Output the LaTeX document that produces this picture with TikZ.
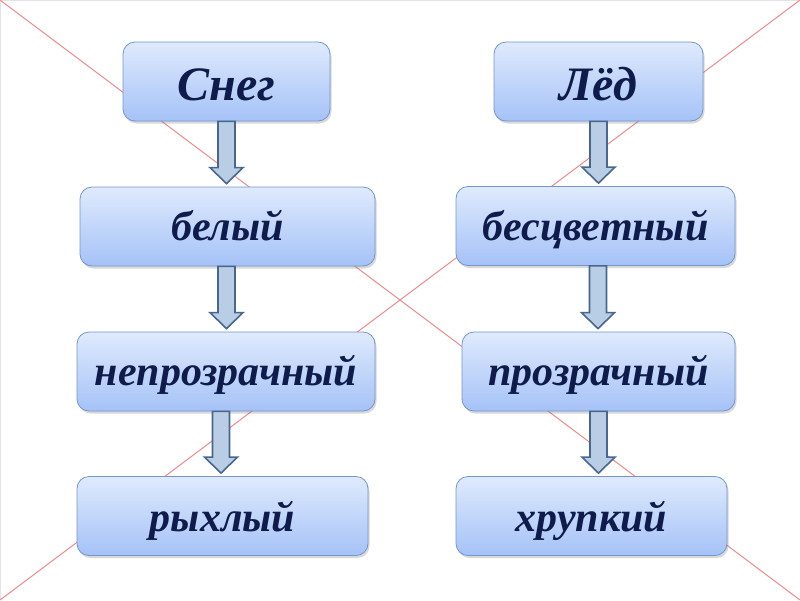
\documentclass[tikz,border=0pt]{standalone}
\usepackage{fontspec}
\setmainfont{Liberation Serif}
\usetikzlibrary{shadows,calc}
\definecolor{boxtop}{HTML}{DFEAFD}
\definecolor{boxbot}{HTML}{A5C2F7}
\definecolor{boxline}{HTML}{7396CC}
\definecolor{txt}{HTML}{0E1B4B}
\definecolor{arrfill}{HTML}{B9CDE5}
\definecolor{arrline}{HTML}{47678F}
\definecolor{xline}{HTML}{F08C8C}
\definecolor{frame}{HTML}{E4E4E4}
\tikzset{
 card/.style={draw=boxline, line width=0.8pt, rounded corners=12pt,
   top color=boxtop, bottom color=boxbot, minimum height=79pt, inner sep=0pt,
   text=txt, font=\fontsize{42}{48}\selectfont\bfseries\itshape,
   text height=40pt, text depth=12pt,
   drop shadow={shadow xshift=1.5pt, shadow yshift=-2.5pt, opacity=0.25, fill=black!60}},
 lowcard/.style={card, text height=43pt},
 bigcard/.style={card, font=\fontsize{48}{54}\selectfont\bfseries\itshape, text height=49pt},
 blockarr/.style={fill=arrfill, draw=arrline, line width=1.6pt, line join=miter},
 xstroke/.style={draw=xline, line width=1pt},
}
\newcommand\barrow[3][0]{%
  \path[blockarr] let \p1=(#2.south), \p2=(#3.north), \n1={\x1+(#1pt)} in
   ({\n1-8.5pt},\y1) -- ({\n1+8.5pt},\y1) -- ({\n1+8.5pt},{\y2+19pt})
   -- ({\n1+16.5pt},{\y2+19pt}) -- ({\n1},{\y2+3pt}) -- ({\n1-16.5pt},{\y2+19pt})
   -- ({\n1-8.5pt},{\y2+19pt}) -- cycle;}
\begin{document}
\begin{tikzpicture}[x=1pt,y=-1pt]
\useasboundingbox (0,0) rectangle (800,600);
\fill[white] (0,0) rectangle (800,600);
\coordinate (tl) at (0,0);
\coordinate (tr) at (800,0);
\coordinate (bl) at (0,600);
\coordinate (br) at (800,600);
\draw[frame, line width=1.5pt] (tl) -- (tr);
\draw[frame, line width=1.5pt] (tl) -- (bl);
\draw[xstroke] (tl) -- (br);
\draw[xstroke] (tr) -- (bl);

\node[bigcard, minimum width=207pt] (sneg) at (226.5,81.5) {Снег};
\node[bigcard, minimum width=209pt] (led) at (598.5,81.5) {Лёд};
\node[card, minimum width=295pt] (bel) at (227.5,226.5) {белый};
\node[card, minimum width=279pt] (bes) at (595.5,226) {бесцветный};
\node[card, minimum width=298pt] (neproz) at (226,371.5) {непрозрачный};
\node[card, minimum width=273pt] (proz) at (598.5,371.5) {прозрачный};
\node[lowcard, minimum width=291pt] (ryh) at (222.5,516) {рыхлый};
\node[lowcard, minimum width=271pt] (hrup) at (591.5,516) {хрупкий};

\barrow{sneg}{bel}
\barrow[-1]{bel}{neproz}
\barrow[-5]{neproz}{ryh}
\barrow{led}{bes}
\barrow[2.5]{bes}{proz}
\barrow{proz}{hrup}
\end{tikzpicture}
\end{document}
